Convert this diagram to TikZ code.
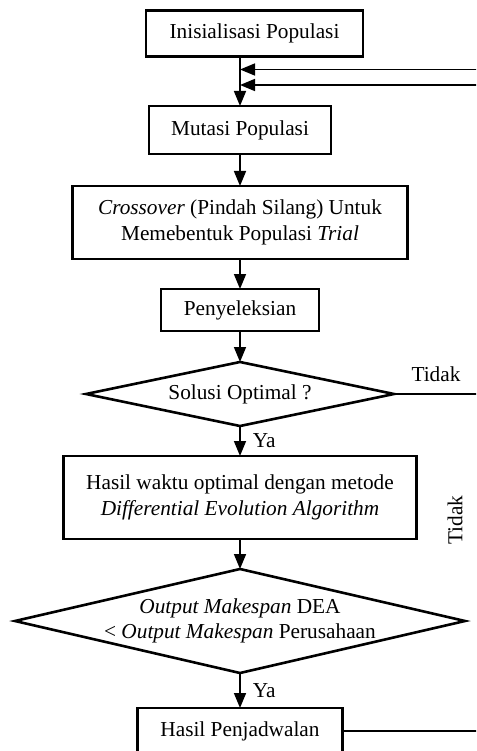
\documentclass[tikz,border=0pt]{standalone}
\usepackage{fontspec}
\setmainfont{Liberation Serif}
\usepackage{tikz}
\usetikzlibrary{
  arrows.meta,
  shapes.geometric,
  positioning
}
\newcommand{\fcfont}{\fontsize{21.3}{25.5}\selectfont}
\tikzset{
  fcnode/.style={
    draw, line width=2.6pt, outer sep=0pt, font=\fcfont, align=center
  },
  fcbox/.style={fcnode, rectangle, inner sep=2pt},
  fcdecision/.style={fcnode, diamond, aspect=4.8, inner sep=0pt},
  flow/.style={-{Triangle[length=15pt, width=12pt]}, line width=1.6pt},
  link/.style={line width=1.6pt},
  fclabel/.style={font=\fcfont, inner sep=1pt}
}

\begin{document}
\begin{tikzpicture}
  \useasboundingbox (0,0) rectangle (476pt,-751pt);
  \clip (0,0) rectangle (476pt,-751pt);

  \node[fcbox, minimum width=217pt, minimum height=46pt] (init) at (254.5pt,-33.5pt) {Inisialisasi Populasi};
  \node[fcbox, minimum width=182pt, minimum height=48pt, below=49.5pt of init, xshift=-14.5pt] (mut) {Mutasi Populasi};
  \node[fcbox, minimum width=335pt, minimum height=73pt, below=32pt of mut] (cross) {\textit{Crossover} (Pindah Silang) Untuk\\ Memebentuk Populasi \textit{Trial}};
  \node[fcbox, minimum width=158pt, minimum height=42pt, below=30pt of cross] (sel) {Penyeleksian};
  \node[fcdecision, minimum width=308pt, minimum height=64pt, below=31pt of sel] (dec1) {Solusi Optimal ?};
  \node[fcbox, minimum width=353pt, minimum height=83pt, below=30pt of dec1] (hasil) {Hasil waktu optimal dengan metode\\ \textit{Differential Evolution Algorithm}};
  \node[fcdecision, minimum width=450pt, minimum height=104pt, below=30pt of hasil] (dec2) {};
  \node[fclabel, align=center] (dec2txt) at (dec2) {\textit{Output Makespan} DEA\\ \textless{} \textit{Output Makespan} Perusahaan};
  \node[fcbox, minimum width=205pt, minimum height=46pt, below=35pt of dec2] (jadwal) {Hasil Penjadwalan};

  \coordinate (fbA) at (478pt,-69.5pt);
  \coordinate (fbB) at (478pt,-85pt);

  \draw[flow] (init.south -| mut.north) -- (mut.north);
  \draw[flow] (fbA) -- (fbA -| mut.north);
  \draw[flow] (fbB) -- (fbB -| mut.north);
  \draw[flow] (mut) -- (cross);
  \draw[flow] (cross) -- (sel);
  \draw[flow] (sel) -- (dec1);
  \draw[flow] (dec1) -- node[fclabel, right=11pt] {Ya} (hasil);
  \draw[flow] (hasil) -- (dec2);
  \draw[flow] (dec2) -- node[fclabel, right=11pt] {Ya} (jadwal);

  \draw[link] (dec1.east) -- node[fclabel, above=10pt] {Tidak} (dec1.east -| fbB);
  \draw[link] (jadwal.east) -- (jadwal.east -| fbA);
  \node[fclabel, rotate=90] (tidak2) at (455pt,-520pt) {Tidak};
\end{tikzpicture}
\end{document}
